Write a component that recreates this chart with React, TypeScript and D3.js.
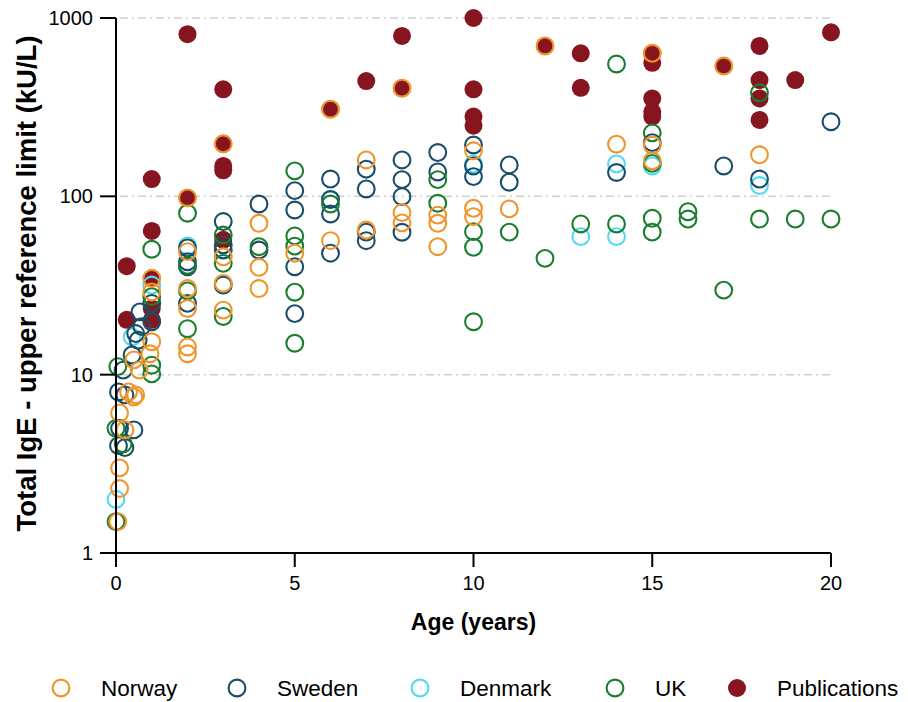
import React from "react";
import * as d3 from "d3";

// [age (years), total IgE upper reference limit (kU/L)]
const norway: [number, number][] = [
  [0.05, 1.5], [0.1, 2.3], [0.1, 3.0], [0.1, 6.1], [0.25, 4.9], [0.35, 8.0], [0.5, 7.5], [0.5, 12.1],
  [0.55, 7.7], [0.65, 10.6], [0.95, 13.1], [1, 15.3], [1, 29.1], [1, 34.7],
  [2, 98], [2, 49], [2, 30.4], [2, 23.5], [2, 14.3], [2, 13.1],
  [3, 197], [3, 45.8], [3, 32.5], [3, 23],
  [4, 70.6], [4, 40], [4, 30.4],
  [5, 48],
  [6, 308], [6, 56.4],
  [7, 160], [7, 64.7],
  [8, 404], [8, 81], [8, 71],
  [9, 78.5], [9, 70.6], [9, 52.2],
  [10, 180], [10, 85.7], [10, 76.9],
  [11, 85],
  [12, 697],
  [14, 196],
  [15, 634], [15, 194], [15, 158],
  [17, 538],
  [18, 171],
];

const sweden: [number, number][] = [
  [0.07, 4.0], [0.07, 8.0], [0.1, 5.0], [0.25, 3.9], [0.25, 7.7], [0.2, 10.6], [0.45, 12.9], [0.5, 4.9],
  [0.55, 17], [0.62, 15.6], [0.67, 22.5], [0.72, 18.6], [1, 25.1], [1, 19.8],
  [2, 51.4], [2, 43], [2, 40.3], [2, 25.1],
  [3, 72.2], [3, 53.4], [3, 50], [3, 31.8],
  [4, 90.6], [4, 50],
  [5, 107.6], [5, 83.8], [5, 40.3], [5, 22],
  [6, 125], [6, 96], [6, 79.6], [6, 48],
  [7, 142], [7, 110], [7, 63], [7, 56.4],
  [8, 160], [8, 124], [8, 99.6], [8, 62.9],
  [9, 176], [9, 137],
  [10, 194], [10, 148], [10, 129],
  [11, 150], [11, 120],
  [14, 136],
  [15, 200],
  [17, 148],
  [18, 125],
  [20, 262],
];

const denmark: [number, number][] = [
  [0, 2.0], [0.45, 16.3], [1, 31.8], [2, 52.7], [6, 96], [10, 152], [13, 59.4], [14, 152], [14, 59.4],
  [15, 148], [18, 115],
];

const uk: [number, number][] = [
  [0, 1.5], [0, 5.0], [0.05, 11.1], [0.2, 4.1],
  [1, 50.5], [1, 27.4], [1, 11.3], [1, 10.1],
  [2, 80.4], [2, 41], [2, 29.5], [2, 18.1],
  [3, 60.7], [3, 42.1], [3, 21.2],
  [4, 52.2],
  [5, 139], [5, 60], [5, 52.6], [5, 29], [5, 15],
  [6, 90.6],
  [9, 124], [9, 91.4],
  [10, 63.4], [10, 51.8], [10, 19.8],
  [11, 63],
  [12, 44.9],
  [13, 70],
  [14, 552], [14, 70],
  [15, 227], [15, 153], [15, 75.3], [15, 63],
  [16, 82], [16, 74.6],
  [17, 29.8],
  [18, 381], [18, 74.6],
  [19, 74.6],
  [20, 74.6],
];

const publications: [number, number][] = [
  [0.3, 40.6], [0.3, 20.3],
  [1, 125], [1, 64], [1, 34.7], [1, 23.5], [1, 20.3],
  [2, 811], [2, 98],
  [3, 398], [3, 197], [3, 148], [3, 140], [3, 57],
  [6, 308], [7, 443], [8, 793], [8, 404],
  [10, 1000], [10, 398], [10, 280], [10, 249],
  [12, 697], [13, 634], [13, 406],
  [15, 634], [15, 561], [15, 354], [15, 298], [15, 280],
  [17, 538],
  [18, 697], [18, 449], [18, 354], [18, 268],
  [19, 449], [20, 831],
];

const legendNames = ["Norway", "Sweden", "Denmark", "UK", "Publications"];
const legendColors = ["#F0952B", "#1A4D68", "#52D9F3", "#1B7E2E", "#86151F"];
const xTicks = [0, 5, 10, 15, 20];
const yTicks = [1, 10, 100, 1000];
const gridValues = [10, 100, 1000];

const FONT = "'Liberation Sans', Arial, Helvetica, sans-serif";

export default function App() {
  const W = 908;
  const H = 702;
  const x = d3.scaleLinear().domain([0, 20]).range([116, 831]);
  const y = d3.scaleLog().domain([1, 1000]).range([553, 18]);
  const [x0, x1] = x.range();
  const [y0, y1] = y.range();

  const ringR = 8.4;
  const ringW = 2.1;
  const dotR = 9;

  // draw order bottom -> top
  const ringLayers: { data: [number, number][]; color: string }[] = [
    { data: denmark, color: legendColors[2] },
    { data: sweden, color: legendColors[1] },
    { data: uk, color: legendColors[3] },
    { data: norway, color: legendColors[0] },
  ];

  const legendMarkerX = [61, 237, 420, 615, 737];
  const legendY = 688;

  return (
    <svg
      width={W}
      height={H}
      viewBox={`0 0 ${W} ${H}`}
      style={{ position: "absolute", left: 0, top: 0, display: "block", background: "#fff" }}
    >
      <rect width={W} height={H} fill="#fff" />
      {/* gridlines */}
      {gridValues.map((v) => (
        <line
          key={"g" + v}
          x1={x0 + 4}
          x2={x1}
          y1={y(v)}
          y2={y(v)}
          stroke="#cfcfcf"
          strokeWidth={1.5}
          strokeDasharray="8,4,2,4"
        />
      ))}

      {/* publications (filled) */}
      {publications.map(([a, v], i) => (
        <circle key={"p" + i} cx={x(a)} cy={y(v)} r={dotR} fill={legendColors[4]} />
      ))}

      {/* country rings */}
      {ringLayers.map((layer, li) =>
        layer.data.map(([a, v], i) => (
          <circle
            key={"r" + li + "-" + i}
            cx={x(a)}
            cy={y(v)}
            r={ringR}
            fill="none"
            stroke={layer.color}
            strokeWidth={ringW}
          />
        ))
      )}

      {/* axes */}
      <line x1={x0} x2={x0} y1={y1} y2={y0 + 14} stroke="#000" strokeWidth={2} />
      <line x1={x0 - 16} x2={x1} y1={y0} y2={y0} stroke="#000" strokeWidth={2} />
      {yTicks.map((t) => (
        <g key={"yt" + t}>
          <line x1={x0 - 16} x2={x0} y1={y(t)} y2={y(t)} stroke="#000" strokeWidth={2} />
          <text
            x={x0 - 23}
            y={y(t)}
            dy="0.35em"
            textAnchor="end"
            fontFamily={FONT}
            fontSize={20}
            fill="#000"
          >
            {t}
          </text>
        </g>
      ))}
      {xTicks.map((t) => (
        <g key={"xt" + t}>
          <line x1={x(t)} x2={x(t)} y1={y0} y2={y0 + 14} stroke="#000" strokeWidth={2} />
          <text
            x={x(t)}
            y={y0 + 37}
            textAnchor="middle"
            fontFamily={FONT}
            fontSize={20}
            fill="#000"
          >
            {t}
          </text>
        </g>
      ))}

      {/* axis titles */}
      <text
        x={(x0 + x1) / 2}
        y={630}
        textAnchor="middle"
        fontFamily={FONT}
        fontSize={23}
        fontWeight="bold"
        fill="#000"
      >
        Age (years)
      </text>
      <text
        transform={`translate(36, ${(y0 + y1) / 2 - 2}) rotate(-90)`}
        textAnchor="middle"
        fontFamily={FONT}
        fontSize={27.5}
        fontWeight="bold"
        fill="#000"
      >
        Total IgE - upper reference limit (kU/L)
      </text>

      {/* legend */}
      {legendNames.map((name, i) => (
        <g key={"lg" + i}>
          {i === 4 ? (
            <circle cx={legendMarkerX[i]} cy={legendY} r={dotR} fill={legendColors[i]} />
          ) : (
            <circle
              cx={legendMarkerX[i]}
              cy={legendY}
              r={ringR}
              fill="none"
              stroke={legendColors[i]}
              strokeWidth={ringW}
            />
          )}
          <text
            x={legendMarkerX[i] + 40}
            y={legendY}
            dy="0.36em"
            fontFamily={FONT}
            fontSize={22.5}
            fill="#000"
          >
            {name}
          </text>
        </g>
      ))}
    </svg>
  );
}
